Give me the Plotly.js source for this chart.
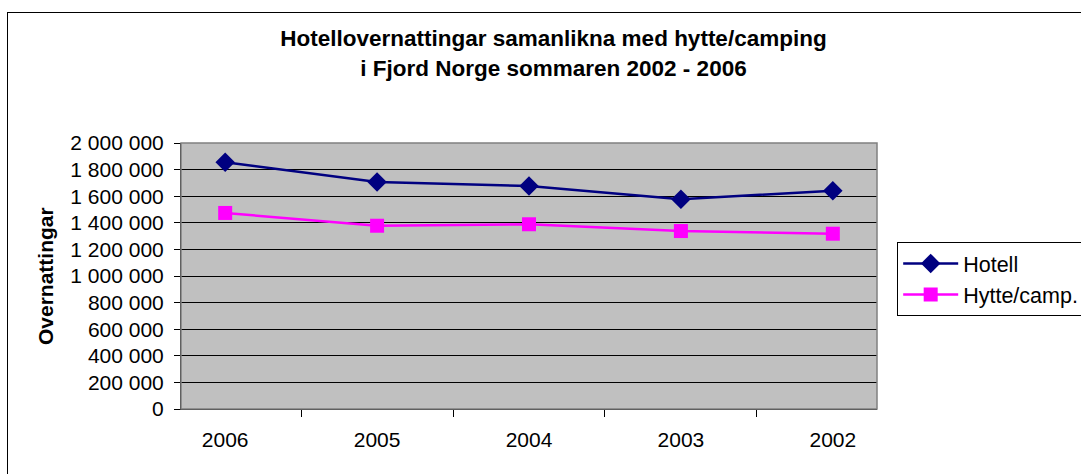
<!DOCTYPE html>
<html>
<head>
<meta charset="utf-8">
<script src="https://cdn.plot.ly/plotly-3.0.1.min.js"></script>
<style>
  html, body { margin:0; padding:0; background:#fff; overflow:hidden; }
  #frame { position:absolute; left:7px; top:12px; width:1100px; height:500px; border:1px solid #000; box-sizing:border-box; pointer-events:none; z-index:5; }
  #chart { position:absolute; left:0; top:0; width:1081px; height:474px; }
</style>
</head>
<body>
<div id="chart"></div>
<div id="frame"></div>
<script>
// Data
const years = ["2006", "2005", "2004", "2003", "2002"];
const hotell = [1855000, 1707000, 1677000, 1577000, 1641000];
const hytte  = [1474000, 1378000, 1389000, 1338000, 1318000];
const yTickVals = [0, 200000, 400000, 600000, 800000, 1000000, 1200000, 1400000, 1600000, 1800000, 2000000];
const yTickText = ["0", "200 000", "400 000", "600 000", "800 000", "1 000 000", "1 200 000", "1 400 000", "1 600 000", "1 800 000", "2 000 000"];
const seriesNames = ["Hotell", "Hytte/camp."];
const titleText = "<b>Hotellovernattingar samanlikna med hytte/camping<br>i Fjord Norge sommaren 2002 - 2006</b>";
const yTitle = "<b>Overnattingar</b>";

const font = "Arial, 'Liberation Sans', sans-serif";

const traces = [
  {
    x: years, y: hotell, name: seriesNames[0], type: "scatter", mode: "lines+markers",
    line: { color: "#000080", width: 2.5 },
    marker: { symbol: "diamond", size: 15, color: "#000080" }
  },
  {
    x: years, y: hytte, name: seriesNames[1], type: "scatter", mode: "lines+markers",
    line: { color: "#FF00FF", width: 2.5 },
    marker: { symbol: "square", size: 14, color: "#FF00FF" }
  }
];

const layout = {
  width: 1081, height: 474,
  margin: { l: 181, r: 204, t: 143, b: 65, autoexpand: false },
  paper_bgcolor: "rgba(0,0,0,0)",
  plot_bgcolor: "#C0C0C0",
  font: { family: font, color: "#000", size: 21 },
  showlegend: true,
  title: {
    text: titleText,
    font: { family: font, size: 22.5, color: "#000" },
    xref: "container", x: 0.512, xanchor: "center",
    yref: "container", y: 0.902, yanchor: "middle"
  },
  xaxis: {
    type: "category",
    tickson: "boundaries",
    ticks: "outside", ticklen: 7, tickcolor: "#000", tickwidth: 1,
    showline: true, linecolor: "#000", linewidth: 1,
    showgrid: false, zeroline: false,
    tickfont: { family: font, size: 21, color: "#000" },
    ticklabelstandoff: 12,
    fixedrange: true
  },
  yaxis: {
    range: [0, 2000000],
    tickmode: "array", tickvals: yTickVals, ticktext: yTickText,
    ticks: "outside", ticklen: 6, tickcolor: "#000", tickwidth: 1,
    showline: true, linecolor: "#000", linewidth: 1,
    showgrid: true, gridcolor: "#000", gridwidth: 1,
    zeroline: false,
    tickfont: { family: font, size: 21, color: "#000" },
    ticklabelstandoff: 6,
    fixedrange: true
  },
  legend: {
    x: 1.029, xanchor: "left", y: 0.628, yanchor: "top",
    bordercolor: "#000", borderwidth: 1, bgcolor: "#fff",
    font: { family: font, size: 21.5, color: "#000" },
    itemwidth: 55,
    entrywidth: 200,
    tracegroupgap: 0
  },
  annotations: [
    {
      text: yTitle, textangle: -90, showarrow: false,
      xref: "paper", x: -0.1954, xanchor: "center",
      yref: "paper", y: 0.5, yanchor: "middle",
      font: { family: font, size: 21, color: "#000" }
    }
  ],
  shapes: [
    {
      type: "rect", xref: "paper", yref: "paper", x0: 0, x1: 1, y0: 0, y1: 1,
      line: { color: "#808080", width: 1.5 }, fillcolor: "rgba(0,0,0,0)", layer: "above"
    }
  ]
};

Plotly.newPlot("chart", traces, layout, { displayModeBar: false, staticPlot: true });
</script>
</body>
</html>
